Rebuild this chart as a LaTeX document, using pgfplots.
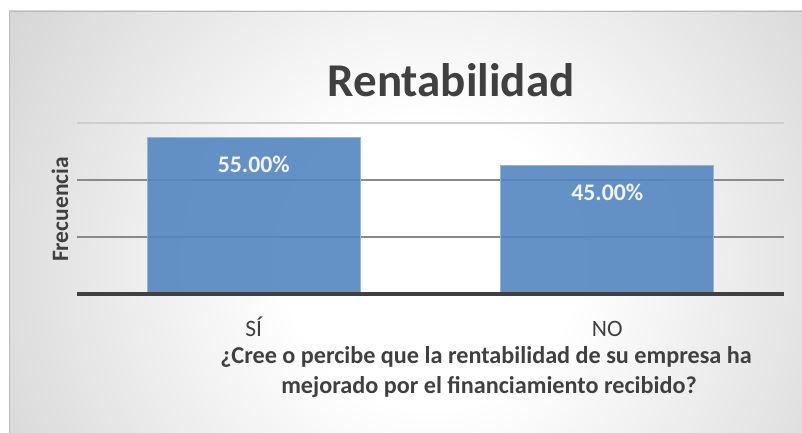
\documentclass[border=0pt]{standalone}
\usepackage{fontspec}
\setmainfont{Carlito}
\usepackage{pgfplots}
\pgfplotsset{compat=1.18}
\definecolor{txt}{RGB}{64,64,64}
\definecolor{barblue}{RGB}{84,134,192}
\definecolor{baredge}{RGB}{150,180,215}
\definecolor{gridc}{RGB}{137,137,137}
\definecolor{gridl}{RGB}{205,205,205}
\definecolor{bgA}{RGB}{200,200,200}
\definecolor{bgB}{RGB}{194,194,194}
\definecolor{frame}{RGB}{185,185,185}
\pgfdeclareradialshading{bgshade}{\pgfpoint{0bp}{0bp}}{color(0bp)=(white); color(7bp)=(white); color(29bp)=(bgA); color(36bp)=(bgB); color(50bp)=(bgB)}
\begin{document}
\begin{tikzpicture}[x=1pt,y=1pt]
\useasboundingbox (0,0) rectangle (802,433);
\fill[white] (0,0) rectangle (802,433);
\begin{scope}
\clip (9,0) rectangle (802,422);
\shade[shading=bgshade] (430,170) circle (520);
\end{scope}
\draw[frame, line width=0.8pt] (9,0) -- (9,422) -- (802,422);
\begin{axis}[
 at={(77pt,139pt)}, anchor=south west,
 scale only axis, width=707pt, height=171pt,
 xmin=-0.5, xmax=1.5, ymin=0, ymax=0.6,
 ybar, bar width=213pt,
 axis line style={draw=none},
 xtick={0,1}, xticklabels={SÍ,NO},
 major tick length=0pt,
 xticklabel style={anchor=base, yshift=-43pt, font=\fontsize{23.5}{28}\selectfont, text=txt},
 ytick={0.2,0.4}, yticklabels={},
 extra y ticks={0.6}, extra y tick labels={},
 extra y tick style={grid style={gridl, line width=1.2pt}},
 ymajorgrids, grid style={gridc, line width=1.5pt},
 nodes near coords, point meta=explicit symbolic,
 every node near coord/.append style={anchor=base, yshift=-35pt, text=white, font=\bfseries\fontsize{23.8}{28}\selectfont},
 clip=false,
]
\addplot[fill=barblue, fill opacity=0.9, draw=baredge, line width=0.8pt] coordinates {(0,0.55) [55.00\%] (1,0.45) [45.00\%]};
\draw[txt, line width=3.5pt] (axis cs:-0.5,0) -- (axis cs:1.5,0);
\end{axis}
\node[anchor=base, text=txt, font=\bfseries\fontsize{47}{50}\selectfont] at (451,336) {Rentabilidad};
\node[anchor=base, rotate=90, text=txt, font=\bfseries\fontsize{23.5}{28}\selectfont] at (68,223.5) {Frecuencia};
\node[anchor=base, text=txt, font=\bfseries\fontsize{24.2}{28}\selectfont] at (486,69) {¿Cree o percibe que la rentabilidad de su empresa ha};
\node[anchor=base, text=txt, font=\bfseries\fontsize{24.2}{28}\selectfont] at (489,39) {mejorado por el financiamiento recibido?};
\end{tikzpicture}
\end{document}
